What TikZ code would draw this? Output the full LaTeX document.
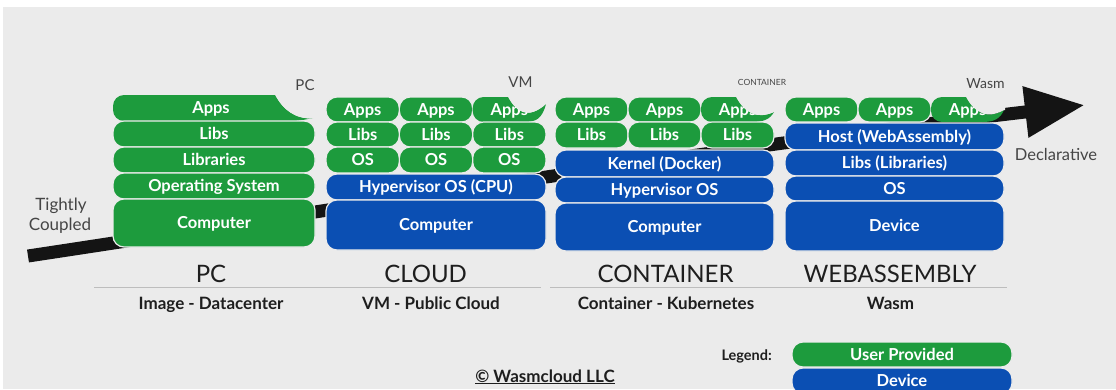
\documentclass[tikz,border=0pt]{standalone}
\usepackage{fontspec}
\setmainfont{Lato}
\usetikzlibrary{arrows.meta}

\definecolor{ugreen}{HTML}{1D9B3D}
\definecolor{dblue}{HTML}{0B4FB3}
\definecolor{canvasgrey}{HTML}{EBEBEB}
\definecolor{ink}{HTML}{1E1E1E}
\definecolor{soft}{HTML}{454545}
\definecolor{rule}{HTML}{BDBDBD}

% Pill whose top-right corner peels away into a thin tail:
% #1 left, #2 top, #3 right (tail tip x), #4 bottom, #5 tail tip y
\newcommand\curlpath[5]{%
  ({#3-38},#2) .. controls ({#3-30},{#2+15}) and ({#3-18},{#4-2}) .. (#3,#5)
  .. controls ({#3-4},{#4-3}) and ({#3-10},#4) .. ({#3-22},#4)
  -- ({#1+11},#4) arc[start angle=90, end angle=180, radius=11]
  -- (#1,{#2+11}) arc[start angle=180, end angle=270, radius=11] -- cycle}
% the piece cut away above the tail (painted over the label)
\newcommand\bitepath[5]{%
  ({#3-38},{#2-1}) .. controls ({#3-30},{#2+15}) and ({#3-18},{#4-2}) .. (#3,#5)
  -- ({#3+1},#5) -- ({#3+1},{#2-1}) -- cycle}

\begin{document}
\begin{tikzpicture}[x=1pt,y=-1pt,
  layer/.style={rounded corners=11pt, draw=canvasgrey, line width=1.2pt, text=white,
    font=\bfseries\fontsize{16.5}{18}\selectfont, inner sep=0pt,
    text height=11.9pt, text depth=0pt},
  user/.style={layer, fill=ugreen},
  dev/.style={layer, fill=dblue},
  boxtext/.style={text=white, font=\bfseries\fontsize{16.5}{18}\selectfont,
    inner sep=0pt, text height=11.9pt, text depth=0pt},
  curlfill/.style={fill=ugreen},
  tag/.style={anchor=base, text=soft, font=\fontsize{15}{17}\selectfont, inner sep=0pt},
  heading/.style={anchor=base, text=ink, font=\fontsize{24}{28}\selectfont, inner sep=0pt},
  subtitle/.style={anchor=base, text=ink, font=\bfseries\fontsize{17}{20}\selectfont, inner sep=0pt},
  trend/.style={line width=13pt, black!92, -{Triangle[length=60pt,width=48pt]}},
]

% canvas
\fill[white] (0,0) rectangle (1116,389);
\fill[canvasgrey] (3,7) rectangle (1116,389);
\useasboundingbox (0,0) rectangle (1116,389);

% trend arrow running behind the stacks
\coordinate (tail) at (28,256);
\coordinate (c1) at (300,215);
\coordinate (c2) at (700,150);
\coordinate (head) at (1085,105);
\draw[trend] (tail) .. controls (c1) and (c2) .. (head);

% ---------------- PC ----------------
\fill[curlfill] \curlpath{113}{95}{313}{121}{118.5};
\node[boxtext] (pc-apps) at (211,108) {Apps};
\fill[canvasgrey] \bitepath{113}{95}{313}{121}{118.5};
\node[user, minimum width=202pt, minimum height=26pt] (pc-libs) at (214,134) {Libs};
\node[user, minimum width=202pt, minimum height=26pt] (pc-libraries) at (214,160) {Libraries};
\node[user, minimum width=202pt, minimum height=26pt] (pc-os) at (214,186) {Operating System};
\node[user, minimum width=202pt, minimum height=48pt] (pc-computer) at (214,223) {Computer};

% ---------------- CLOUD ----------------
\foreach \cx/\i in {362.7/1,436/2} {
  \node[user, minimum width=73.3pt, minimum height=25pt] (vm-apps-\i) at (\cx,109.5) {Apps};
}
\fill[curlfill] \curlpath{472.7}{97}{546}{122}{104};
\node[boxtext] (vm-apps-3) at (509.3,109.5) {Apps};
\fill[canvasgrey] \bitepath{472.7}{97}{546}{122}{104};
\foreach \cx/\i in {362.7/1,436/2,509.3/3} {
  \node[user, minimum width=73.3pt, minimum height=25pt] (vm-libs-\i) at (\cx,134.5) {Libs};
  \node[user, minimum width=73.3pt, minimum height=26pt] (vm-os-\i) at (\cx,160) {OS};
}
\node[dev, minimum width=220pt, minimum height=26pt] (vm-hyp) at (436,187) {Hypervisor OS (CPU)};
\node[dev, minimum width=220pt, minimum height=50pt] (vm-computer) at (436,225) {Computer};

% ---------------- CONTAINER ----------------
\foreach \cx/\i in {591.5/1,664.5/2} {
  \node[user, minimum width=73pt, minimum height=25pt] (ct-apps-\i) at (\cx,109.5) {Apps};
}
\fill[curlfill] \curlpath{701}{97}{774}{122}{112};
\node[boxtext] (ct-apps-3) at (737.5,109.5) {Apps};
\fill[canvasgrey] \bitepath{701}{97}{774}{122}{112};
\foreach \cx/\i in {591.5/1,664.5/2,737.5/3} {
  \node[user, minimum width=73pt, minimum height=26pt] (ct-libs-\i) at (\cx,135) {Libs};
}
\node[dev, minimum width=219pt, minimum height=27pt] (ct-kernel) at (664.5,163.5) {Kernel (Docker)};
\node[dev, minimum width=219pt, minimum height=26pt] (ct-hyp) at (664.5,190) {Hypervisor OS};
\node[dev, minimum width=219pt, minimum height=48pt] (ct-computer) at (664.5,227) {Computer};

% ---------------- WEBASSEMBLY ----------------
\foreach \cx/\i in {821.5/1,894.5/2} {
  \node[user, minimum width=73pt, minimum height=25pt] (wa-apps-\i) at (\cx,109.5) {Apps};
}
\fill[curlfill] \curlpath{931}{97}{1004}{122}{110};
\node[boxtext] (wa-apps-3) at (967.5,109.5) {Apps};
\fill[canvasgrey] \bitepath{931}{97}{1004}{122}{110};
\node[dev, minimum width=219pt, minimum height=27pt] (wa-host) at (894.5,136.5) {Host (WebAssembly)};
\node[dev, minimum width=219pt, minimum height=26pt] (wa-libs) at (894.5,163) {Libs (Libraries)};
\node[dev, minimum width=219pt, minimum height=25pt] (wa-os) at (894.5,188.5) {OS};
\node[dev, minimum width=219pt, minimum height=50pt] (wa-device) at (894.5,226) {Device};

% small stage tags above the stacks
\node[tag] (tag-pc) at (305,90.5) {PC};
\node[tag] (tag-vm) at (520.5,87) {VM};
\node[tag, font=\fontsize{8.5}{10}\selectfont] (tag-ct) at (762,85) {CONTAINER};
\node[tag, font=\fontsize{14}{16}\selectfont] (tag-wa) at (985.5,88) {Wasm};

% ends of the scale
\node[anchor=base, text=soft, font=\fontsize{17}{20}\selectfont, inner sep=0pt] (tight-1) at (61,210) {Tightly};
\node[anchor=base, text=soft, font=\fontsize{17}{20}\selectfont, inner sep=0pt] (tight-2) at (60,230) {Coupled};
\node[anchor=base, text=soft, font=\fontsize{16.5}{20}\selectfont, inner sep=0pt] (decl) at (1056,160) {Declarative};

% column headings
\node[heading] (h-pc) at (211,282) {PC};
\node[heading] (h-cloud) at (425.6,282) {CLOUD};
\node[heading] (h-ct) at (665.5,282) {CONTAINER};
\node[heading] (h-wa) at (890,282) {WEBASSEMBLY};
\coordinate (r1a) at (94,287);
\coordinate (r1b) at (541,287);
\coordinate (r2a) at (550,287);
\coordinate (r2b) at (1007,287);
\draw[rule, line width=1pt] (r1a) -- (r1b);
\draw[rule, line width=1pt] (r2a) -- (r2b);
\node[subtitle] (s-pc) at (211,309) {Image - Datacenter};
\node[subtitle] (s-cloud) at (431,309) {VM - Public Cloud};
\node[subtitle] (s-ct) at (666,309) {Container - Kubernetes};
\node[subtitle] (s-wa) at (890.5,309) {Wasm};

% footer
\node[subtitle] (copy) at (545,382) {\underline{© Wasmcloud LLC}};
\node[anchor=base east, text=ink, font=\bfseries\fontsize{14.5}{17}\selectfont, inner sep=0pt] (lg-label) at (772,360) {Legend:};
\node[user, minimum width=220pt, minimum height=25pt] (lg-user) at (902,354.5) {User Provided};
\node[dev, minimum width=220pt, minimum height=26pt] (lg-dev) at (902,381) {Device};

\end{tikzpicture}
\end{document}
